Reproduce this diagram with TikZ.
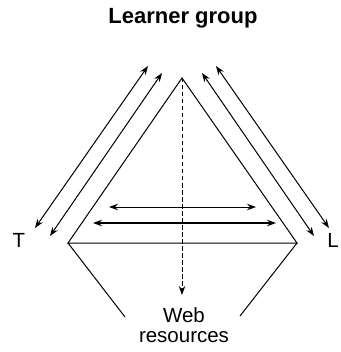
\documentclass[tikz,border=0pt]{standalone}
\usepackage{fontspec}
\setmainfont{Liberation Sans}
\usetikzlibrary{arrows.meta}
\begin{document}
\begin{tikzpicture}[x=1pt,y=-1pt,
  line/.style={line width=1pt},
  dbl/.style={line width=1pt,{Stealth[length=9pt,width=6.5pt]}-{Stealth[length=9pt,width=6.5pt]}},
  lbl/.style={font=\fontsize{20.5}{20}\selectfont,inner sep=0pt,anchor=base}]
\useasboundingbox (0,0) rectangle (340,352);
% labels
\node[lbl,font=\fontsize{22}{22}\selectfont\bfseries] (title) at (183,24) {Learner group};
\node[lbl] (T) at (19,247) {T};
\node[lbl,anchor=base east] (L) at (339,247) {L};
\node[lbl,anchor=north,align=center] (web) at (184,307) {Web\\resources};
% triangle
\coordinate (A) at (182,78);
\coordinate (BL) at (68,243);
\coordinate (BR) at (297,243);
\coordinate (FL) at (125,317);
\coordinate (FR) at (240,316);
\coordinate (D) at (182,295);
\draw[line] (A) -- (BL) -- (BR) -- cycle;
\draw[line] (BL) -- (FL);
\draw[line] (BR) -- (FR);
\draw[line,dash pattern=on 4.5pt off 2.5pt,-{Stealth[length=9pt,width=6.5pt]}] (A) -- (D);
% slanted double arrows
\coordinate (l1a) at (35,228); \coordinate (l1b) at (148,66);
\coordinate (l2a) at (50,236); \coordinate (l2b) at (162,73);
\coordinate (r1a) at (329,228); \coordinate (r1b) at (216,66);
\coordinate (r2a) at (314,236); \coordinate (r2b) at (202,73);
\draw[dbl] (l1a) -- (l1b);
\draw[dbl] (l2a) -- (l2b);
\draw[dbl] (r1a) -- (r1b);
\draw[dbl] (r2a) -- (r2b);
% horizontal double arrows
\coordinate (h1a) at (109,207); \coordinate (h1b) at (256,207);
\coordinate (h2a) at (93,223); \coordinate (h2b) at (276,223);
\draw[dbl] (h1a) -- (h1b);
\draw[dbl,line width=1.6pt] (h2a) -- (h2b);
\end{tikzpicture}
\end{document}
